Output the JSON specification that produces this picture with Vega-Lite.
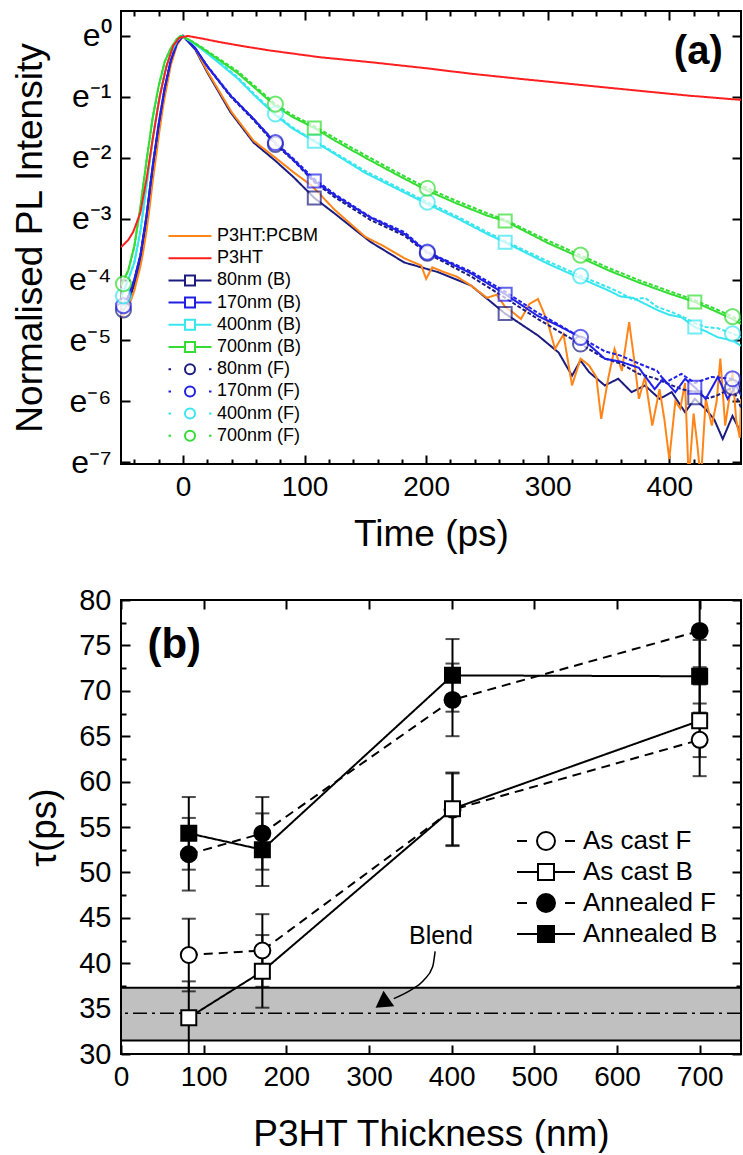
{
"$schema": "https://vega.github.io/schema/vega-lite/v6.json",
"padding": {"left": 10, "top": 9, "right": 2, "bottom": 0},
"spacing": 32,
"resolve": {"scale": {"color": "independent"}, "legend": {"color": "independent"}},
"config": {
  "font": "Liberation Sans",
  "view": {"stroke": "black", "strokeWidth": 2},
  "axis": {"labelFont": "Liberation Sans", "titleFont": "Liberation Sans", "labelFontSize": 28, "titleFontSize": 37, "titleFontWeight": "normal", "labelColor": "black", "titleColor": "black", "tickColor": "black", "tickWidth": 2, "domain": false, "grid": false, "labelPadding": 9, "titlePadding": 12, "labelFlush": false, "labelOverlap": false, "tickSize": 9, "offset": -9},
  "legend": {"labelFont": "Liberation Sans", "labelColor": "black"},
  "text": {"font": "Liberation Sans", "color": "black"}
},
"datasets": {
"decay": [
{"s":"80nm (B)","t":-51,"v":-4.58},{"s":"80nm (B)","t":-45,"v":-4.38},{"s":"80nm (B)","t":-40,"v":-4.08},{"s":"80nm (B)","t":-35,"v":-3.7},{"s":"80nm (B)","t":-30,"v":-3.05},{"s":"80nm (B)","t":-25,"v":-2.25},{"s":"80nm (B)","t":-20,"v":-1.52},{"s":"80nm (B)","t":-15,"v":-0.9},{"s":"80nm (B)","t":-10,"v":-0.42},{"s":"80nm (B)","t":-5,"v":-0.13},{"s":"80nm (B)","t":0,"v":0},{"s":"80nm (B)","t":10,"v":-0.22},{"s":"80nm (B)","t":20,"v":-0.6},{"s":"80nm (B)","t":39,"v":-1.25},{"s":"80nm (B)","t":58,"v":-1.75},{"s":"80nm (B)","t":76,"v":-2.05},{"s":"80nm (B)","t":91,"v":-2.32},{"s":"80nm (B)","t":108,"v":-2.66},{"s":"80nm (B)","t":125,"v":-2.92},{"s":"80nm (B)","t":154,"v":-3.38},{"s":"80nm (B)","t":182,"v":-3.72},{"s":"80nm (B)","t":210,"v":-3.88},{"s":"80nm (B)","t":237,"v":-4.1},{"s":"80nm (B)","t":265,"v":-4.56},{"s":"80nm (B)","t":292,"v":-4.92},{"s":"80nm (B)","t":309,"v":-5.2},{"s":"80nm (B)","t":320,"v":-5.58},{"s":"80nm (B)","t":327,"v":-5.33},{"s":"80nm (B)","t":334,"v":-5.52},{"s":"80nm (B)","t":347,"v":-5.74},{"s":"80nm (B)","t":358,"v":-5.63},{"s":"80nm (B)","t":369,"v":-5.85},{"s":"80nm (B)","t":380,"v":-5.74},{"s":"80nm (B)","t":392,"v":-5.96},{"s":"80nm (B)","t":402,"v":-5.85},{"s":"80nm (B)","t":413,"v":-6.18},{"s":"80nm (B)","t":421,"v":-5.96},{"s":"80nm (B)","t":430,"v":-6.13},{"s":"80nm (B)","t":437,"v":-6.3},{"s":"80nm (B)","t":444,"v":-6.62},{"s":"80nm (B)","t":452,"v":-6.24},{"s":"80nm (B)","t":456,"v":-6.4},{"s":"80nm (B)","t":459,"v":-6.57},
{"s":"P3HT:PCBM","t":-51,"v":-4.62},{"s":"P3HT:PCBM","t":-46.5,"v":-4.54},{"s":"P3HT:PCBM","t":-43,"v":-4.35},{"s":"P3HT:PCBM","t":-40,"v":-4.18},{"s":"P3HT:PCBM","t":-35,"v":-3.78},{"s":"P3HT:PCBM","t":-32.8,"v":-3.55},{"s":"P3HT:PCBM","t":-30,"v":-3.2},{"s":"P3HT:PCBM","t":-27.3,"v":-2.79},{"s":"P3HT:PCBM","t":-25,"v":-2.4},{"s":"P3HT:PCBM","t":-21.7,"v":-1.91},{"s":"P3HT:PCBM","t":-20,"v":-1.65},{"s":"P3HT:PCBM","t":-16.3,"v":-1.15},{"s":"P3HT:PCBM","t":-15,"v":-1.0},{"s":"P3HT:PCBM","t":-10,"v":-0.48},{"s":"P3HT:PCBM","t":-5,"v":-0.15},{"s":"P3HT:PCBM","t":0,"v":0},{"s":"P3HT:PCBM","t":10,"v":-0.2},{"s":"P3HT:PCBM","t":20,"v":-0.58},{"s":"P3HT:PCBM","t":40,"v":-1.25},{"s":"P3HT:PCBM","t":58,"v":-1.72},{"s":"P3HT:PCBM","t":76,"v":-2.0},{"s":"P3HT:PCBM","t":91,"v":-2.24},{"s":"P3HT:PCBM","t":106,"v":-2.46},{"s":"P3HT:PCBM","t":125,"v":-2.86},{"s":"P3HT:PCBM","t":150,"v":-3.3},{"s":"P3HT:PCBM","t":165,"v":-3.45},{"s":"P3HT:PCBM","t":182,"v":-3.65},{"s":"P3HT:PCBM","t":190,"v":-3.72},{"s":"P3HT:PCBM","t":196,"v":-3.77},{"s":"P3HT:PCBM","t":200,"v":-3.99},{"s":"P3HT:PCBM","t":205,"v":-3.8},{"s":"P3HT:PCBM","t":215,"v":-3.88},{"s":"P3HT:PCBM","t":225,"v":-3.95},{"s":"P3HT:PCBM","t":237,"v":-4.1},{"s":"P3HT:PCBM","t":250,"v":-4.3},{"s":"P3HT:PCBM","t":258,"v":-4.25},{"s":"P3HT:PCBM","t":265,"v":-4.45},{"s":"P3HT:PCBM","t":272,"v":-4.55},{"s":"P3HT:PCBM","t":278,"v":-4.65},{"s":"P3HT:PCBM","t":285,"v":-4.4},{"s":"P3HT:PCBM","t":292,"v":-4.32},{"s":"P3HT:PCBM","t":300,"v":-4.7},{"s":"P3HT:PCBM","t":306,"v":-5.14},{"s":"P3HT:PCBM","t":313,"v":-4.9},{"s":"P3HT:PCBM","t":320,"v":-5.74},{"s":"P3HT:PCBM","t":327,"v":-5.3},{"s":"P3HT:PCBM","t":334,"v":-5.41},{"s":"P3HT:PCBM","t":340,"v":-5.6},{"s":"P3HT:PCBM","t":344,"v":-6.29},{"s":"P3HT:PCBM","t":350,"v":-5.6},{"s":"P3HT:PCBM","t":355,"v":-5.14},{"s":"P3HT:PCBM","t":361,"v":-5.5},{"s":"P3HT:PCBM","t":367,"v":-4.7},{"s":"P3HT:PCBM","t":371,"v":-5.3},{"s":"P3HT:PCBM","t":375,"v":-5.96},{"s":"P3HT:PCBM","t":380,"v":-5.6},{"s":"P3HT:PCBM","t":386,"v":-6.4},{"s":"P3HT:PCBM","t":392,"v":-5.8},{"s":"P3HT:PCBM","t":396,"v":-6.3},{"s":"P3HT:PCBM","t":400,"v":-6.95},{"s":"P3HT:PCBM","t":405,"v":-6.0},{"s":"P3HT:PCBM","t":409,"v":-6.12},{"s":"P3HT:PCBM","t":413,"v":-5.7},{"s":"P3HT:PCBM","t":416,"v":-7.3},{"s":"P3HT:PCBM","t":420,"v":-6.2},{"s":"P3HT:PCBM","t":423,"v":-6.7},{"s":"P3HT:PCBM","t":426,"v":-7.3},{"s":"P3HT:PCBM","t":430,"v":-5.96},{"s":"P3HT:PCBM","t":435,"v":-6.4},{"s":"P3HT:PCBM","t":439,"v":-6.0},{"s":"P3HT:PCBM","t":442,"v":-5.3},{"s":"P3HT:PCBM","t":446,"v":-6.4},{"s":"P3HT:PCBM","t":449,"v":-6.0},{"s":"P3HT:PCBM","t":452,"v":-5.52},{"s":"P3HT:PCBM","t":455,"v":-6.3},{"s":"P3HT:PCBM","t":458,"v":-6.6},{"s":"P3HT:PCBM","t":459,"v":-5.96},
{"s":"80nm (F)","t":-51,"v":-4.52},{"s":"80nm (F)","t":-45,"v":-4.3},{"s":"80nm (F)","t":-40,"v":-4.0},{"s":"80nm (F)","t":-35,"v":-3.6},{"s":"80nm (F)","t":-30,"v":-2.95},{"s":"80nm (F)","t":-25,"v":-2.15},{"s":"80nm (F)","t":-20,"v":-1.45},{"s":"80nm (F)","t":-15,"v":-0.85},{"s":"80nm (F)","t":-10,"v":-0.4},{"s":"80nm (F)","t":-5,"v":-0.12},{"s":"80nm (F)","t":0,"v":0},{"s":"80nm (F)","t":10,"v":-0.2},{"s":"80nm (F)","t":20,"v":-0.5},{"s":"80nm (F)","t":39,"v":-0.99},{"s":"80nm (F)","t":58,"v":-1.38},{"s":"80nm (F)","t":76,"v":-1.78},{"s":"80nm (F)","t":91,"v":-2.05},{"s":"80nm (F)","t":108,"v":-2.4},{"s":"80nm (F)","t":125,"v":-2.65},{"s":"80nm (F)","t":154,"v":-3.02},{"s":"80nm (F)","t":182,"v":-3.28},{"s":"80nm (F)","t":201,"v":-3.57},{"s":"80nm (F)","t":237,"v":-3.95},{"s":"80nm (F)","t":265,"v":-4.3},{"s":"80nm (F)","t":292,"v":-4.65},{"s":"80nm (F)","t":309,"v":-4.85},{"s":"80nm (F)","t":327,"v":-5.06},{"s":"80nm (F)","t":347,"v":-5.3},{"s":"80nm (F)","t":360,"v":-5.38},{"s":"80nm (F)","t":375,"v":-5.55},{"s":"80nm (F)","t":388,"v":-5.62},{"s":"80nm (F)","t":400,"v":-5.72},{"s":"80nm (F)","t":410,"v":-5.8},{"s":"80nm (F)","t":421,"v":-5.85},{"s":"80nm (F)","t":432,"v":-5.95},{"s":"80nm (F)","t":440,"v":-5.9},{"s":"80nm (F)","t":452,"v":-5.77},{"s":"80nm (F)","t":459,"v":-6.1},
{"s":"170nm (B)","t":-51,"v":-4.45},{"s":"170nm (B)","t":-45,"v":-4.28},{"s":"170nm (B)","t":-40,"v":-4.0},{"s":"170nm (B)","t":-35,"v":-3.6},{"s":"170nm (B)","t":-30,"v":-2.95},{"s":"170nm (B)","t":-25,"v":-2.15},{"s":"170nm (B)","t":-20,"v":-1.45},{"s":"170nm (B)","t":-15,"v":-0.85},{"s":"170nm (B)","t":-10,"v":-0.4},{"s":"170nm (B)","t":-5,"v":-0.12},{"s":"170nm (B)","t":0,"v":0},{"s":"170nm (B)","t":10,"v":-0.2},{"s":"170nm (B)","t":20,"v":-0.5},{"s":"170nm (B)","t":39,"v":-0.98},{"s":"170nm (B)","t":58,"v":-1.36},{"s":"170nm (B)","t":76,"v":-1.76},{"s":"170nm (B)","t":91,"v":-2.04},{"s":"170nm (B)","t":108,"v":-2.38},{"s":"170nm (B)","t":125,"v":-2.62},{"s":"170nm (B)","t":154,"v":-2.98},{"s":"170nm (B)","t":182,"v":-3.25},{"s":"170nm (B)","t":201,"v":-3.55},{"s":"170nm (B)","t":237,"v":-3.9},{"s":"170nm (B)","t":265,"v":-4.24},{"s":"170nm (B)","t":292,"v":-4.6},{"s":"170nm (B)","t":309,"v":-4.76},{"s":"170nm (B)","t":327,"v":-4.95},{"s":"170nm (B)","t":347,"v":-5.3},{"s":"170nm (B)","t":360,"v":-5.35},{"s":"170nm (B)","t":375,"v":-5.45},{"s":"170nm (B)","t":388,"v":-5.8},{"s":"170nm (B)","t":395,"v":-5.63},{"s":"170nm (B)","t":405,"v":-5.85},{"s":"170nm (B)","t":413,"v":-5.63},{"s":"170nm (B)","t":421,"v":-5.77},{"s":"170nm (B)","t":430,"v":-5.96},{"s":"170nm (B)","t":440,"v":-5.6},{"s":"170nm (B)","t":448,"v":-5.96},{"s":"170nm (B)","t":455,"v":-5.74},{"s":"170nm (B)","t":459,"v":-5.9},
{"s":"170nm (F)","t":-51,"v":-4.45},{"s":"170nm (F)","t":-45,"v":-4.28},{"s":"170nm (F)","t":-40,"v":-4.0},{"s":"170nm (F)","t":-35,"v":-3.6},{"s":"170nm (F)","t":-30,"v":-2.95},{"s":"170nm (F)","t":-25,"v":-2.15},{"s":"170nm (F)","t":-20,"v":-1.45},{"s":"170nm (F)","t":-15,"v":-0.85},{"s":"170nm (F)","t":-10,"v":-0.4},{"s":"170nm (F)","t":-5,"v":-0.12},{"s":"170nm (F)","t":0,"v":0},{"s":"170nm (F)","t":10,"v":-0.2},{"s":"170nm (F)","t":20,"v":-0.49},{"s":"170nm (F)","t":39,"v":-0.97},{"s":"170nm (F)","t":58,"v":-1.36},{"s":"170nm (F)","t":76,"v":-1.75},{"s":"170nm (F)","t":91,"v":-2.02},{"s":"170nm (F)","t":108,"v":-2.35},{"s":"170nm (F)","t":125,"v":-2.6},{"s":"170nm (F)","t":154,"v":-2.97},{"s":"170nm (F)","t":182,"v":-3.22},{"s":"170nm (F)","t":201,"v":-3.55},{"s":"170nm (F)","t":237,"v":-3.87},{"s":"170nm (F)","t":265,"v":-4.2},{"s":"170nm (F)","t":292,"v":-4.55},{"s":"170nm (F)","t":309,"v":-4.74},{"s":"170nm (F)","t":327,"v":-4.95},{"s":"170nm (F)","t":347,"v":-5.18},{"s":"170nm (F)","t":360,"v":-5.25},{"s":"170nm (F)","t":375,"v":-5.38},{"s":"170nm (F)","t":390,"v":-5.5},{"s":"170nm (F)","t":397,"v":-5.69},{"s":"170nm (F)","t":410,"v":-5.55},{"s":"170nm (F)","t":421,"v":-5.7},{"s":"170nm (F)","t":435,"v":-5.6},{"s":"170nm (F)","t":452,"v":-5.63},{"s":"170nm (F)","t":459,"v":-5.8},
{"s":"400nm (B)","t":-51,"v":-4.3},{"s":"400nm (B)","t":-45,"v":-4.0},{"s":"400nm (B)","t":-40,"v":-3.72},{"s":"400nm (B)","t":-35,"v":-3.2},{"s":"400nm (B)","t":-30,"v":-2.46},{"s":"400nm (B)","t":-25,"v":-1.7},{"s":"400nm (B)","t":-20,"v":-1.08},{"s":"400nm (B)","t":-15,"v":-0.6},{"s":"400nm (B)","t":-10,"v":-0.28},{"s":"400nm (B)","t":-5,"v":-0.08},{"s":"400nm (B)","t":-1,"v":0},{"s":"400nm (B)","t":5,"v":-0.07},{"s":"400nm (B)","t":15,"v":-0.21},{"s":"400nm (B)","t":30,"v":-0.45},{"s":"400nm (B)","t":45,"v":-0.7},{"s":"400nm (B)","t":60,"v":-1.0},{"s":"400nm (B)","t":76,"v":-1.3},{"s":"400nm (B)","t":90,"v":-1.52},{"s":"400nm (B)","t":108,"v":-1.73},{"s":"400nm (B)","t":125,"v":-1.94},{"s":"400nm (B)","t":150,"v":-2.25},{"s":"400nm (B)","t":175,"v":-2.5},{"s":"400nm (B)","t":201,"v":-2.76},{"s":"400nm (B)","t":225,"v":-2.99},{"s":"400nm (B)","t":250,"v":-3.25},{"s":"400nm (B)","t":265,"v":-3.39},{"s":"400nm (B)","t":300,"v":-3.74},{"s":"400nm (B)","t":327,"v":-3.98},{"s":"400nm (B)","t":350,"v":-4.18},{"s":"400nm (B)","t":360,"v":-4.28},{"s":"400nm (B)","t":370,"v":-4.3},{"s":"400nm (B)","t":380,"v":-4.4},{"s":"400nm (B)","t":390,"v":-4.5},{"s":"400nm (B)","t":400,"v":-4.58},{"s":"400nm (B)","t":410,"v":-4.62},{"s":"400nm (B)","t":421,"v":-4.78},{"s":"400nm (B)","t":430,"v":-4.85},{"s":"400nm (B)","t":440,"v":-4.95},{"s":"400nm (B)","t":452,"v":-5.0},{"s":"400nm (B)","t":459,"v":-5.09},
{"s":"400nm (F)","t":-51,"v":-4.3},{"s":"400nm (F)","t":-45,"v":-4.0},{"s":"400nm (F)","t":-40,"v":-3.72},{"s":"400nm (F)","t":-35,"v":-3.2},{"s":"400nm (F)","t":-30,"v":-2.46},{"s":"400nm (F)","t":-25,"v":-1.7},{"s":"400nm (F)","t":-20,"v":-1.08},{"s":"400nm (F)","t":-15,"v":-0.6},{"s":"400nm (F)","t":-10,"v":-0.28},{"s":"400nm (F)","t":-5,"v":-0.08},{"s":"400nm (F)","t":-1,"v":0},{"s":"400nm (F)","t":5,"v":-0.07},{"s":"400nm (F)","t":15,"v":-0.2},{"s":"400nm (F)","t":30,"v":-0.43},{"s":"400nm (F)","t":45,"v":-0.68},{"s":"400nm (F)","t":60,"v":-0.98},{"s":"400nm (F)","t":76,"v":-1.28},{"s":"400nm (F)","t":90,"v":-1.5},{"s":"400nm (F)","t":108,"v":-1.72},{"s":"400nm (F)","t":125,"v":-1.92},{"s":"400nm (F)","t":150,"v":-2.22},{"s":"400nm (F)","t":175,"v":-2.47},{"s":"400nm (F)","t":201,"v":-2.73},{"s":"400nm (F)","t":225,"v":-2.96},{"s":"400nm (F)","t":250,"v":-3.22},{"s":"400nm (F)","t":265,"v":-3.37},{"s":"400nm (F)","t":300,"v":-3.7},{"s":"400nm (F)","t":327,"v":-3.94},{"s":"400nm (F)","t":350,"v":-4.13},{"s":"400nm (F)","t":360,"v":-4.22},{"s":"400nm (F)","t":370,"v":-4.33},{"s":"400nm (F)","t":380,"v":-4.3},{"s":"400nm (F)","t":390,"v":-4.45},{"s":"400nm (F)","t":400,"v":-4.52},{"s":"400nm (F)","t":410,"v":-4.6},{"s":"400nm (F)","t":421,"v":-4.72},{"s":"400nm (F)","t":430,"v":-4.78},{"s":"400nm (F)","t":440,"v":-4.8},{"s":"400nm (F)","t":452,"v":-4.89},{"s":"400nm (F)","t":459,"v":-4.95},
{"s":"700nm (B)","t":-51,"v":-4.1},{"s":"700nm (B)","t":-45,"v":-3.85},{"s":"700nm (B)","t":-40,"v":-3.45},{"s":"700nm (B)","t":-35,"v":-2.8},{"s":"700nm (B)","t":-30,"v":-2.05},{"s":"700nm (B)","t":-25,"v":-1.35},{"s":"700nm (B)","t":-20,"v":-0.82},{"s":"700nm (B)","t":-15,"v":-0.42},{"s":"700nm (B)","t":-10,"v":-0.2},{"s":"700nm (B)","t":-5,"v":-0.05},{"s":"700nm (B)","t":-2,"v":0},{"s":"700nm (B)","t":5,"v":-0.06},{"s":"700nm (B)","t":15,"v":-0.19},{"s":"700nm (B)","t":30,"v":-0.4},{"s":"700nm (B)","t":45,"v":-0.61},{"s":"700nm (B)","t":60,"v":-0.87},{"s":"700nm (B)","t":76,"v":-1.15},{"s":"700nm (B)","t":90,"v":-1.33},{"s":"700nm (B)","t":108,"v":-1.51},{"s":"700nm (B)","t":125,"v":-1.72},{"s":"700nm (B)","t":150,"v":-2.0},{"s":"700nm (B)","t":175,"v":-2.27},{"s":"700nm (B)","t":201,"v":-2.54},{"s":"700nm (B)","t":225,"v":-2.75},{"s":"700nm (B)","t":250,"v":-2.95},{"s":"700nm (B)","t":265,"v":-3.04},{"s":"700nm (B)","t":300,"v":-3.4},{"s":"700nm (B)","t":327,"v":-3.64},{"s":"700nm (B)","t":350,"v":-3.85},{"s":"700nm (B)","t":375,"v":-4.05},{"s":"700nm (B)","t":400,"v":-4.23},{"s":"700nm (B)","t":421,"v":-4.37},{"s":"700nm (B)","t":440,"v":-4.54},{"s":"700nm (B)","t":452,"v":-4.65},{"s":"700nm (B)","t":459,"v":-4.73},
{"s":"700nm (F)","t":-51,"v":-4.1},{"s":"700nm (F)","t":-45,"v":-3.85},{"s":"700nm (F)","t":-40,"v":-3.45},{"s":"700nm (F)","t":-35,"v":-2.8},{"s":"700nm (F)","t":-30,"v":-2.05},{"s":"700nm (F)","t":-25,"v":-1.35},{"s":"700nm (F)","t":-20,"v":-0.82},{"s":"700nm (F)","t":-15,"v":-0.42},{"s":"700nm (F)","t":-10,"v":-0.2},{"s":"700nm (F)","t":-5,"v":-0.05},{"s":"700nm (F)","t":-2,"v":0},{"s":"700nm (F)","t":5,"v":-0.06},{"s":"700nm (F)","t":15,"v":-0.18},{"s":"700nm (F)","t":30,"v":-0.38},{"s":"700nm (F)","t":45,"v":-0.58},{"s":"700nm (F)","t":60,"v":-0.84},{"s":"700nm (F)","t":76,"v":-1.12},{"s":"700nm (F)","t":90,"v":-1.3},{"s":"700nm (F)","t":108,"v":-1.48},{"s":"700nm (F)","t":125,"v":-1.68},{"s":"700nm (F)","t":150,"v":-1.96},{"s":"700nm (F)","t":175,"v":-2.23},{"s":"700nm (F)","t":201,"v":-2.5},{"s":"700nm (F)","t":225,"v":-2.71},{"s":"700nm (F)","t":250,"v":-2.91},{"s":"700nm (F)","t":265,"v":-3.02},{"s":"700nm (F)","t":300,"v":-3.36},{"s":"700nm (F)","t":327,"v":-3.6},{"s":"700nm (F)","t":350,"v":-3.81},{"s":"700nm (F)","t":375,"v":-4.01},{"s":"700nm (F)","t":400,"v":-4.19},{"s":"700nm (F)","t":421,"v":-4.34},{"s":"700nm (F)","t":440,"v":-4.5},{"s":"700nm (F)","t":452,"v":-4.61},{"s":"700nm (F)","t":459,"v":-4.68},
{"s":"P3HT","t":-51,"v":-3.47},{"s":"P3HT","t":-45,"v":-3.35},{"s":"P3HT","t":-41,"v":-3.22},{"s":"P3HT","t":-35,"v":-2.9},{"s":"P3HT","t":-30,"v":-2.35},{"s":"P3HT","t":-24.5,"v":-1.64},{"s":"P3HT","t":-19,"v":-0.98},{"s":"P3HT","t":-13.5,"v":-0.49},{"s":"P3HT","t":-8,"v":-0.16},{"s":"P3HT","t":-3,"v":-0.03},{"s":"P3HT","t":4,"v":0},{"s":"P3HT","t":15,"v":-0.04},{"s":"P3HT","t":30,"v":-0.1},{"s":"P3HT","t":50,"v":-0.17},{"s":"P3HT","t":72,"v":-0.24},{"s":"P3HT","t":113,"v":-0.35},{"s":"P3HT","t":154,"v":-0.43},{"s":"P3HT","t":200,"v":-0.53},{"s":"P3HT","t":237,"v":-0.62},{"s":"P3HT","t":280,"v":-0.71},{"s":"P3HT","t":320,"v":-0.79},{"s":"P3HT","t":370,"v":-0.89},{"s":"P3HT","t":416,"v":-0.98},{"s":"P3HT","t":459,"v":-1.05}
],
"markers": [
{"s":"80nm (B)","t":108,"v":-2.66},{"s":"80nm (B)","t":265,"v":-4.56},{"s":"80nm (B)","t":421,"v":-5.94},
{"s":"170nm (B)","t":108,"v":-2.38},{"s":"170nm (B)","t":265,"v":-4.24},{"s":"170nm (B)","t":421,"v":-5.77},
{"s":"400nm (B)","t":108,"v":-1.73},{"s":"400nm (B)","t":265,"v":-3.39},{"s":"400nm (B)","t":421,"v":-4.78},
{"s":"700nm (B)","t":108,"v":-1.51},{"s":"700nm (B)","t":265,"v":-3.04},{"s":"700nm (B)","t":421,"v":-4.37},
{"s":"80nm (F)","t":-49,"v":-4.5},{"s":"80nm (F)","t":76,"v":-1.78},{"s":"80nm (F)","t":201,"v":-3.57},{"s":"80nm (F)","t":327,"v":-5.06},{"s":"80nm (F)","t":452,"v":-5.77},
{"s":"170nm (F)","t":-49,"v":-4.43},{"s":"170nm (F)","t":76,"v":-1.75},{"s":"170nm (F)","t":201,"v":-3.55},{"s":"170nm (F)","t":327,"v":-4.95},{"s":"170nm (F)","t":452,"v":-5.63},
{"s":"400nm (F)","t":-49,"v":-4.27},{"s":"400nm (F)","t":76,"v":-1.28},{"s":"400nm (F)","t":201,"v":-2.73},{"s":"400nm (F)","t":327,"v":-3.94},{"s":"400nm (F)","t":452,"v":-4.89},
{"s":"700nm (F)","t":-49,"v":-4.07},{"s":"700nm (F)","t":76,"v":-1.12},{"s":"700nm (F)","t":201,"v":-2.5},{"s":"700nm (F)","t":327,"v":-3.6},{"s":"700nm (F)","t":452,"v":-4.61}
],
"tau": [
{"g":"As cast F","d":82,"tau":40.9,"lo":36.9,"hi":44.9},
{"g":"As cast F","d":171,"tau":41.4,"lo":37.4,"hi":45.4},
{"g":"As cast F","d":401,"tau":56.9,"lo":52.9,"hi":60.9},
{"g":"As cast F","d":700,"tau":64.6,"lo":60.6,"hi":68.6},
{"g":"As cast B","d":82,"tau":34.0,"lo":30.0,"hi":38.0},
{"g":"As cast B","d":171,"tau":39.1,"lo":35.1,"hi":43.1},
{"g":"As cast B","d":401,"tau":57.0,"lo":53.0,"hi":61.0},
{"g":"As cast B","d":700,"tau":66.7,"lo":62.7,"hi":70.7},
{"g":"Annealed F","d":82,"tau":52.0,"lo":48.0,"hi":56.0},
{"g":"Annealed F","d":171,"tau":54.3,"lo":50.3,"hi":58.3},
{"g":"Annealed F","d":401,"tau":69.0,"lo":65.0,"hi":73.0},
{"g":"Annealed F","d":700,"tau":76.6,"lo":72.6,"hi":80.6},
{"g":"Annealed B","d":82,"tau":54.3,"lo":50.3,"hi":58.3},
{"g":"Annealed B","d":171,"tau":52.5,"lo":48.5,"hi":56.5},
{"g":"Annealed B","d":401,"tau":71.7,"lo":67.7,"hi":75.7},
{"g":"Annealed B","d":700,"tau":71.6,"lo":67.6,"hi":75.6}
]
},
"vconcat": [
{
 "width": 620, "height": 453,
 "layer": [
  {"data": {"name": "decay"},
   "mark": {"type": "line", "strokeWidth": 2, "clip": true},
   "encoding": {
    "x": {"field": "t", "type": "quantitative", "scale": {"domain": [-51, 459], "nice": false, "zero": false},
          "axis": {"orient": "bottom", "values": [0,100,200,300,400], "titlePadding": 15, "title": "Time (ps)"}},
    "y": {"field": "v", "type": "quantitative", "scale": {"domain": [-7.03, 0.41], "nice": false, "zero": false},
          "axis": {"orient": "left", "values": [-7,-6,-5,-4,-3,-2,-1,0], "labelFontSize": 32, "labelPadding": 10, "titlePadding": 19,
                   "labelExpr": "'e' + ['⁰','⁻¹','⁻²','⁻³','⁻⁴','⁻⁵','⁻⁶','⁻⁷'][-datum.value]",
                   "title": "Normalised PL Intensity"}},
    "color": {"field": "s", "type": "nominal",
              "scale": {"domain": ["P3HT:PCBM","P3HT","80nm (B)","170nm (B)","400nm (B)","700nm (B)","80nm (F)","170nm (F)","400nm (F)","700nm (F)"],
                        "range": ["#ff8519","#ff1f1f","#1c1c80","#2020e6","#38e6f0","#33dd33","#1c1c80","#2020e6","#38e6f0","#33dd33"]},
              "legend": {"orient": "none", "legendX": 58, "legendY": 214, "title": null, "padding": 0,
                         "symbolSize": 400, "symbolStrokeWidth": 2, "labelOffset": 16, "rowPadding": 2.2, "labelFontSize": 18,
                         "encode": {"symbols": {"update": {
                            "shape": {"signal": "indexof(datum.value,'(B)')>=0 ? 'M-2.15,0H-0.5M0.5,0H2.15M-0.5,-0.5H0.5V0.5H-0.5Z' : indexof(datum.value,'(F)')>=0 ? 'M-2.15,0H-1.9M1.9,0H2.15M0.5,0A0.5,0.5,0,1,1,-0.5,0A0.5,0.5,0,1,1,0.5,0Z' : 'M-2.15,0H2.15'"},
                            "fill": {"value": "white"},
                            "strokeDash": {"value": []},
                            "strokeWidth": {"value": 2},
                            "size": {"value": 400}}}}}},
    "strokeDash": {"condition": {"test": "indexof(datum.s,'(F)')>=0", "value": [4, 2]}, "value": [1, 0]}
   }},
  {"data": {"name": "markers"},
   "transform": [{"filter": "indexof(datum.s,'(B)')>=0"}],
   "mark": {"type": "point", "shape": "square", "size": 169, "filled": true, "fill": "white", "strokeWidth": 2},
   "encoding": {
    "x": {"field": "t", "type": "quantitative", "scale": {"domain": [-51, 459], "nice": false, "zero": false},
          "axis": {"orient": "top", "labels": false, "title": null, "values": [0,100,200,300,400]}},
    "y": {"field": "v", "type": "quantitative", "scale": {"domain": [-7.03, 0.41], "nice": false, "zero": false},
          "axis": {"orient": "right", "labels": false, "title": null, "values": [-7,-6,-5,-4,-3,-2,-1,0]}},
    "stroke": {"field": "s", "type": "nominal", "legend": null,
               "scale": {"domain": ["P3HT:PCBM","P3HT","80nm (B)","170nm (B)","400nm (B)","700nm (B)","80nm (F)","170nm (F)","400nm (F)","700nm (F)"],
                         "range": ["#ff8519","#ff1f1f","#1c1c80","#2020e6","#38e6f0","#33dd33","#1c1c80","#2020e6","#38e6f0","#33dd33"]}}
   }},
  {"data": {"name": "markers"},
   "transform": [{"filter": "indexof(datum.s,'(F)')>=0"}],
   "mark": {"type": "point", "shape": "circle", "size": 227, "filled": true, "fill": "white", "strokeWidth": 2},
   "encoding": {
    "x": {"field": "t", "type": "quantitative",
          "axis": {"orient": "top", "labels": false, "title": null, "tickSize": 5, "offset": -5,
                   "values": [-40,-20,20,40,60,80,120,140,160,180,220,240,260,280,320,340,360,380,420,440]}},
    "y": {"field": "v", "type": "quantitative", "axis": null},
    "stroke": {"field": "s", "type": "nominal", "legend": null}
   }},
  {"data": {"values": [{}]},
   "mark": {"type": "text", "text": "(a)", "fontSize": 40, "fontWeight": "bold", "align": "right", "baseline": "middle"},
   "encoding": {"x": {"datum": 444, "type": "quantitative",
                      "axis": {"orient": "bottom", "labels": false, "title": null, "tickSize": 5, "offset": -5,
                               "values": [-40,-20,20,40,60,80,120,140,160,180,220,240,260,280,320,340,360,380,420,440]}},
                "y": {"datum": -0.27, "type": "quantitative", "axis": null}}}
 ],
 "resolve": {"axis": {"x": "independent", "y": "independent"}}
},
{
 "width": 620, "height": 454,
 "layer": [
  {"data": {"values": [{"lo": 31.5, "hi": 37.3}]},
   "mark": {"type": "rect", "fill": "#c0c0c0", "stroke": "black", "strokeWidth": 2},
   "encoding": {"y": {"field": "lo", "type": "quantitative",
                      "axis": {"orient": "left", "labels": false, "title": null, "tickSize": 5, "offset": -5,
                               "values": [32.5,37.5,42.5,47.5,52.5,57.5,62.5,67.5,72.5,77.5]}},
                "y2": {"field": "hi"}}},
  {"data": {"values": [{"mid": 34.5}]},
   "mark": {"type": "rule", "color": "black", "strokeWidth": 1.5, "strokeDash": [14, 5, 3, 5]},
   "encoding": {"y": {"field": "mid", "type": "quantitative",
                      "axis": {"orient": "right", "labels": false, "title": null, "tickSize": 5, "offset": -5,
                               "values": [32.5,37.5,42.5,47.5,52.5,57.5,62.5,67.5,72.5,77.5]}}}},
  {"data": {"name": "tau"},
   "mark": {"type": "rule", "color": "black", "strokeWidth": 2, "clip": true},
   "encoding": {"x": {"field": "d", "type": "quantitative", "axis": null}, "y": {"field": "lo", "type": "quantitative", "axis": null}, "y2": {"field": "hi"}}},
  {"data": {"name": "tau"},
   "mark": {"type": "tick", "orient": "horizontal", "size": 14, "thickness": 2, "color": "black", "clip": true},
   "encoding": {"x": {"field": "d", "type": "quantitative", "axis": null}, "y": {"field": "lo", "type": "quantitative", "axis": null}}},
  {"data": {"name": "tau"},
   "mark": {"type": "tick", "orient": "horizontal", "size": 14, "thickness": 2, "color": "black", "clip": true},
   "encoding": {"x": {"field": "d", "type": "quantitative", "axis": null}, "y": {"field": "hi", "type": "quantitative", "axis": null}}},
  {"data": {"name": "tau"},
   "mark": {"type": "line", "strokeWidth": 2},
   "encoding": {
    "x": {"field": "d", "type": "quantitative", "scale": {"domain": [0, 750], "nice": false, "zero": false},
          "axis": {"orient": "bottom", "values": [0,100,200,300,400,500,600,700], "titlePadding": 25, "title": "P3HT Thickness (nm)"}},
    "y": {"field": "tau", "type": "quantitative", "scale": {"domain": [30, 80], "nice": false, "zero": false},
          "axis": {"orient": "left", "values": [30,35,40,45,50,55,60,65,70,75,80],
                   "labelFontSize": 29, "labelPadding": 10, "titlePadding": 15,
                   "title": "τ(ps)"}},
    "color": {"field": "g", "type": "nominal",
              "scale": {"domain": ["As cast F", "As cast B", "Annealed F", "Annealed B"], "range": ["black", "black", "black", "black"]},
              "legend": {"orient": "none", "legendX": 412, "legendY": 228, "title": null, "padding": 0,
                         "symbolSize": 400, "symbolStrokeWidth": 2, "labelOffset": 24, "rowPadding": 5, "labelFontSize": 26,
                         "encode": {"symbols": {"update": {
                            "shape": {"signal": "indexof(datum.value,' F')>=0 ? 'M-2.9,0H-1.9M1.9,0H2.9M0.9,0A0.9,0.9,0,1,1,-0.9,0A0.9,0.9,0,1,1,0.9,0Z' : 'M-2.9,0H-0.8M0.8,0H2.9M-0.8,-0.8H0.8V0.8H-0.8Z'"},
                            "fill": {"signal": "indexof(datum.value,'Annealed')>=0 ? 'black' : 'white'"},
                            "stroke": {"value": "black"},
                            "strokeDash": {"value": []},
                            "strokeWidth": {"value": 2},
                            "size": {"value": 400}}}}}},
    "strokeDash": {"condition": {"test": "indexof(datum.g,' F')>=0", "value": [9, 6]}, "value": [1, 0]}
   }},
  {"data": {"name": "tau"},
   "mark": {"type": "point", "filled": true, "stroke": "black", "strokeWidth": 2, "opacity": 1},
   "encoding": {
    "x": {"field": "d", "type": "quantitative", "scale": {"domain": [0, 750], "nice": false, "zero": false},
          "axis": {"orient": "top", "labels": false, "title": null, "values": [0,100,200,300,400,500,600,700]}},
    "y": {"field": "tau", "type": "quantitative", "scale": {"domain": [30, 80], "nice": false, "zero": false},
          "axis": {"orient": "right", "labels": false, "title": null, "values": [30,35,40,45,50,55,60,65,70,75,80]}},
    "fill": {"condition": {"test": "indexof(datum.g,'Annealed')>=0", "value": "black"}, "value": "white"},
    "shape": {"condition": {"test": "indexof(datum.g,' F')>=0", "value": "circle"}, "value": "square"},
    "size": {"condition": {"test": "indexof(datum.g,' F')>=0", "value": 254}, "value": 225}
   }},
  {"data": {"values": [{"x": 380, "y": 41.3}, {"x": 377, "y": 39.6}, {"x": 366, "y": 38.1}, {"x": 350, "y": 37.0}, {"x": 330, "y": 36.1}]},
   "mark": {"type": "line", "color": "black", "strokeWidth": 1.5, "interpolate": "monotone"},
   "encoding": {"x": {"field": "x", "type": "quantitative", "axis": null}, "y": {"field": "y", "type": "quantitative", "axis": null}, "order": {"field": "y", "sort": "descending"}}},
  {"data": {"values": [{"x": 316, "y": 35.6}]},
   "mark": {"type": "point", "shape": "triangle-up", "filled": true, "color": "black", "size": 350, "angle": 235, "opacity": 1},
   "encoding": {"x": {"field": "x", "type": "quantitative", "axis": null}, "y": {"field": "y", "type": "quantitative", "axis": null}}},
  {"data": {"values": [{"x": 387, "y": 43.0, "label": "Blend"}]},
   "mark": {"type": "text", "fontSize": 25, "baseline": "middle"},
   "encoding": {"x": {"field": "x", "type": "quantitative", "axis": null}, "y": {"field": "y", "type": "quantitative", "axis": null}, "text": {"field": "label"}}},
  {"data": {"values": [{}]},
   "mark": {"type": "text", "text": "(b)", "fontSize": 42, "fontWeight": "bold", "align": "left", "baseline": "middle"},
   "encoding": {"x": {"datum": 32, "type": "quantitative", "axis": null}, "y": {"datum": 75, "type": "quantitative", "axis": null}}}
 ],
 "resolve": {"axis": {"x": "independent", "y": "independent"}}
}
]
}
